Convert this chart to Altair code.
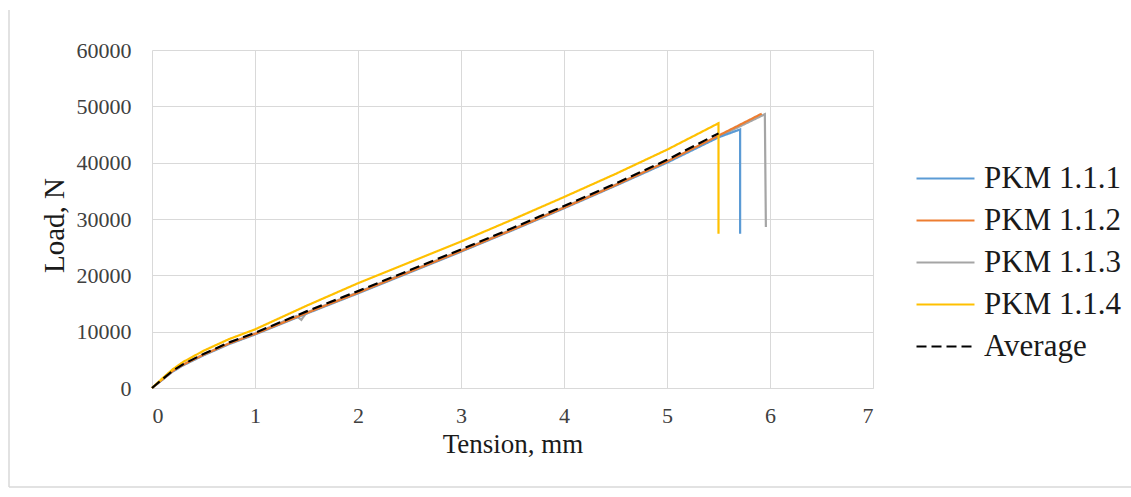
import altair as alt
import pandas as pd

# Series names and colours (legend order)
series_names = ["PKM 1.1.1", "PKM 1.1.2", "PKM 1.1.3", "PKM 1.1.4", "Average"]
series_colors = ["#5B9BD5", "#ED7D31", "#A5A5A5", "#FFC000", "#000000"]

# Tension (mm) and load (N) readings per specimen
pkm_111_x = [0, 0.1, 0.2, 0.3, 0.5, 0.75, 1.0, 1.5, 2.0, 2.5, 3.0, 3.5, 4.0, 4.5, 5.0, 5.5, 5.71, 5.71]
pkm_111_y = [0, 1450, 2900, 4000, 5800, 7800, 9500, 13200, 16800, 20500, 24200, 28000, 31900, 35900, 40000, 44500, 45900, 27400]

pkm_112_x = [0, 0.1, 0.2, 0.3, 0.5, 0.75, 1.0, 1.5, 2.0, 2.5, 3.0, 3.5, 4.0, 4.5, 5.0, 5.5, 5.92]
pkm_112_y = [0, 1500, 3000, 4100, 5900, 7900, 9600, 13300, 16900, 20600, 24300, 28100, 32000, 36000, 40200, 44800, 48700]

pkm_113_x = [0, 0.1, 0.2, 0.3, 0.5, 0.75, 1.0, 1.4, 1.45, 1.5, 2.0, 2.5, 3.0, 3.5, 4.0, 4.5, 5.0, 5.5, 5.95, 5.96]
pkm_113_y = [0, 1550, 3050, 4150, 5950, 7950, 9650, 12800, 12100, 13400, 17000, 20700, 24400, 28200, 32100, 36100, 40200, 44600, 48600, 28600]

pkm_114_x = [0, 0.1, 0.2, 0.3, 0.5, 0.75, 1.0, 1.5, 2.0, 2.5, 3.0, 3.5, 4.0, 4.5, 5.0, 5.5, 5.5]
pkm_114_y = [0, 1700, 3300, 4600, 6600, 8700, 10400, 14600, 18600, 22300, 26000, 29900, 33900, 38000, 42300, 47000, 27400]

average_x = [0, 0.1, 0.2, 0.3, 0.5, 0.75, 1.0, 1.5, 2.0, 2.5, 3.0, 3.5, 4.0, 4.5, 5.0, 5.5]
average_y = [0, 1550, 3050, 4200, 6050, 8100, 9800, 13600, 17200, 20900, 24600, 28400, 32300, 36300, 40500, 45200]

x_ticks = [0, 1, 2, 3, 4, 5, 6, 7]
y_ticks = [0, 10000, 20000, 30000, 40000, 50000, 60000]

# Drawing order: later series are painted on top
draw_order = ["PKM 1.1.3", "PKM 1.1.1", "PKM 1.1.2", "PKM 1.1.4", "Average"]
series_xy = {
    "PKM 1.1.1": (pkm_111_x, pkm_111_y),
    "PKM 1.1.2": (pkm_112_x, pkm_112_y),
    "PKM 1.1.3": (pkm_113_x, pkm_113_y),
    "PKM 1.1.4": (pkm_114_x, pkm_114_y),
    "Average": (average_x, average_y),
}

rows = []
for name in draw_order:
    xs, ys = series_xy[name]
    for i, (xv, yv) in enumerate(zip(xs, ys)):
        rows.append({"series": name, "tension": xv, "load": yv, "idx": i})
df = pd.DataFrame(rows)

FONT = "Liberation Serif"
GRID = "#d9d9d9"

legend = alt.Legend(
    orient="none", legendX=778, legendY=113, title=None,
    labelFont=FONT, labelFontSize=31, labelColor="#1a1a1a", labelLimit=400,
    symbolType="M-2.5,0H2.5", symbolSize=538, symbolOffset=0,
    symbolStrokeWidth=2.6,
    labelOffset=23, rowPadding=10, padding=0,
)

lines = alt.Chart(df).mark_line(strokeJoin="miter", strokeCap="butt").encode(
    x=alt.X(
        "tension:Q",
        scale=alt.Scale(domain=[0, 7], nice=False, zero=False),
        axis=alt.Axis(
            values=x_ticks, grid=True, gridColor=GRID, domainColor=GRID,
            ticks=False, tickSize=0, labelFont=FONT, labelFontSize=22,
            labelColor="#404040", labelPadding=17,
            title="Tension, mm", titleFont=FONT, titleFontSize=27,
            titleFontWeight="normal", titleColor="#1a1a1a",
            titleBaseline="alphabetic", titleY=64,
        ),
    ),
    y=alt.Y(
        "load:Q",
        scale=alt.Scale(domain=[0, 60000], nice=False),
        axis=alt.Axis(
            values=y_ticks, format="d", grid=True, gridColor=GRID,
            domain=False, ticks=False, tickSize=0, labelFont=FONT,
            labelFontSize=22, labelColor="#404040", labelPadding=21,
            title="Load, N", titleFont=FONT, titleFontSize=29,
            titleFontWeight="normal", titleColor="#1a1a1a",
            titleBaseline="alphabetic", titleX=-89, titleY=175, titleAngle=270,
        ),
    ),
    color=alt.Color("series:N", scale=alt.Scale(domain=series_names, range=series_colors), legend=legend),
    strokeDash=alt.StrokeDash(
        "series:N",
        scale=alt.Scale(domain=series_names, range=[[1, 0], [1, 0], [1, 0], [1, 0], [10, 5]]),
        legend=legend,
    ),
    strokeWidth=alt.StrokeWidth(
        "series:N",
        scale=alt.Scale(domain=series_names, range=[2.2, 2.2, 2.2, 2.2, 4]),
        legend=legend,
    ),
    order=alt.Order("idx:Q"),
)

# Outer chart frame (left and bottom edges)
frame_src = pd.DataFrame({"k": [0]})
frame_left = alt.Chart(frame_src).mark_rule(color=GRID, strokeWidth=1.5).encode(
    x=alt.value(-143), y=alt.value(-40), y2=alt.value(437)
)
frame_bottom = alt.Chart(frame_src).mark_rule(color=GRID, strokeWidth=1.5).encode(
    x=alt.value(-143), x2=alt.value(979), y=alt.value(437)
)

chart = alt.layer(frame_left, frame_bottom, lines).properties(
    width=721, height=338,
    autosize=alt.AutoSizeParams(type="none"),
    padding={"left": 152, "top": 50, "right": 258, "bottom": 109},
    background="white",
).configure_view(stroke=None)

chart.save("out.html", embed_options={"renderer": "svg", "actions": False})
